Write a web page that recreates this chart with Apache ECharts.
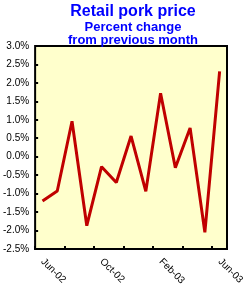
<!DOCTYPE html>
<html>
<head>
<meta charset="utf-8">
<script src="https://cdn.jsdelivr.net/npm/echarts@6/dist/echarts.min.js"></script>
<style>html,body{margin:0;padding:0;background:#fff;}#c{width:248px;height:288px;}</style>
</head>
<body>
<div id="c"></div>
<script>
var categories = ['Jun-02','Jul-02','Aug-02','Sep-02','Oct-02','Nov-02','Dec-02','Jan-03','Feb-03','Mar-03','Apr-03','May-03','Jun-03'];
var pctChange = [-1.2, -0.93, 0.96, -1.87, -0.27, -0.70, 0.56, -0.94, 1.72, -0.30, 0.78, -2.05, 2.31];
var yTicks = { min: -2.5, max: 3.0, step: 0.5 };

var chart = echarts.init(document.getElementById('c'), null, {renderer: 'canvas'});
chart.setOption({
  animation: false,
  backgroundColor: '#ffffff',
  title: [{
    text: 'Retail pork price',
    left: 128, top: -1, textAlign: 'center',
    textStyle: {color: '#0000ff', fontFamily: 'Liberation Sans, Arial', fontWeight: 'bold', fontSize: 16}
  }, {
    text: 'Percent change\nfrom previous month',
    left: 128, top: 16, textAlign: 'center',
    textStyle: {color: '#0000ff', fontFamily: 'Liberation Sans, Arial', fontWeight: 'bold', fontSize: 13, lineHeight: 13}
  }],
  grid: {
    left: 35, right: 21, top: 46, bottom: 38,
    show: true, backgroundColor: '#ffffcc', borderColor: '#000', borderWidth: 2
  },
  xAxis: [{
    type: 'category', data: categories, boundaryGap: true, position: 'bottom',
    axisLine: {show: false}, axisTick: {show: false},
    axisLabel: {interval: 3, rotate: -45, fontSize: 10, fontFamily: 'Liberation Sans, Arial', color: '#000', margin: 11},
    splitLine: {show: false}
  }, {
    type: 'category', data: categories, boundaryGap: true, position: 'bottom', z: 5,
    axisLine: {show: true, onZero: true, lineStyle: {color: '#000', width: 2}},
    axisTick: {show: true, inside: true, interval: 1, length: 3, lineStyle: {color: '#000', width: 2}},
    axisLabel: {show: false}, splitLine: {show: false}
  }],
  yAxis: {
    type: 'value', min: yTicks.min, max: yTicks.max, interval: yTicks.step,
    axisLine: {show: false},
    axisTick: {show: true, inside: true, length: 3, lineStyle: {color: '#000', width: 2}},
    axisLabel: {fontSize: 10, fontFamily: 'Liberation Sans, Arial', color: '#000', margin: 6,
      formatter: function (v) { return v.toFixed(1) + '%'; }},
    splitLine: {show: false}
  },
  series: [{
    type: 'line', data: pctChange, xAxisIndex: 0, symbol: 'none',
    lineStyle: {color: '#c00000', width: 3}, z: 1
  }]
});
</script>
</body>
</html>
